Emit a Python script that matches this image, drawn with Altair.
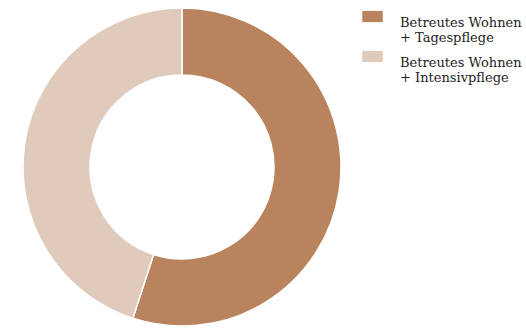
import altair as alt
import pandas as pd

categories = ["Betreutes Wohnen|+ Tagespflege", "Betreutes Wohnen|+ Intensivpflege"]
values = [55, 45]
colors = ["#b9845d", "#e0cabc"]

df = pd.DataFrame({"kategorie": categories, "wert": values, "order": [0, 1]})

chart = (
    alt.Chart(df)
    .mark_arc(outerRadius=159, innerRadius=92, stroke="white", strokeWidth=1.5)
    .encode(
        theta=alt.Theta("wert:Q", stack=True),
        order=alt.Order("order:Q"),
        x=alt.value(182),
        y=alt.value(167),
        color=alt.Color(
            "kategorie:N",
            sort=categories,
            scale=alt.Scale(domain=categories, range=colors),
            legend=alt.Legend(
                title=None,
                orient="none",
                legendX=362,
                legendY=6,
                symbolType="M-1,-0.55L1,-0.55L1,0.55L-1,0.55Z",
                symbolSize=420,
                symbolStrokeWidth=0,
                symbolOpacity=1,
                labelExpr="split(datum.label, '|')",
                labelFont="DejaVu Serif",
                labelFontSize=13,
                labelColor="#222222",
                labelOffset=17,
                labelLimit=300,
                labelBaseline="top",
                rowPadding=1,
            ),
        ),
    )
    .properties(width=526, height=329, padding=0, autosize=alt.AutoSizeParams(type="none"))
    .configure_view(stroke=None)
)

chart.save("out.html", embed_options={"renderer": "svg", "actions": False})
